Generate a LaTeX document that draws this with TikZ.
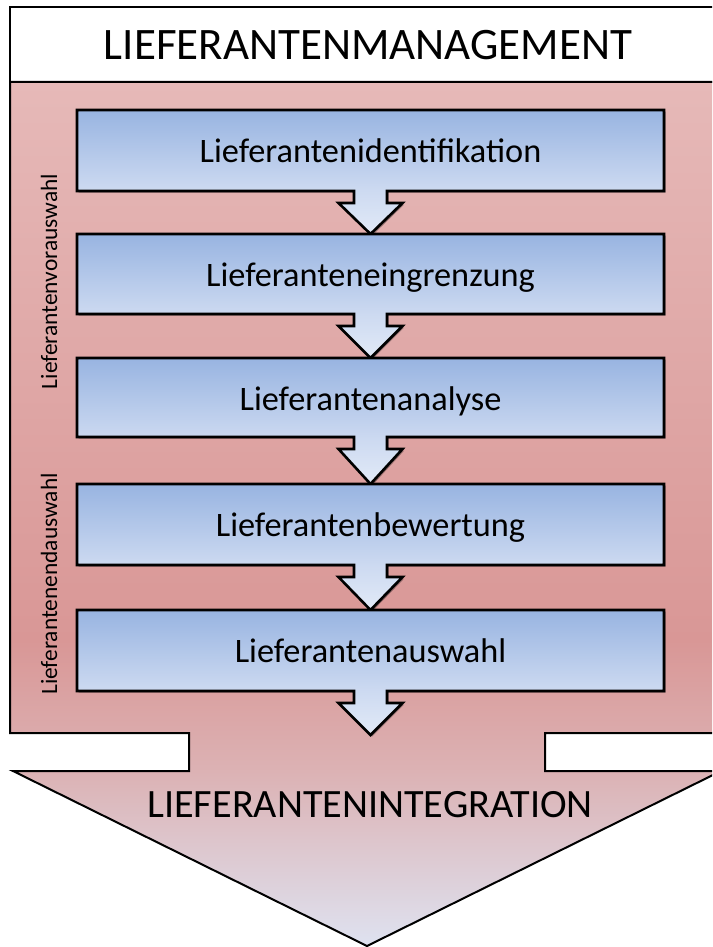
\documentclass[tikz,border=0pt]{standalone}
\usepackage{fontspec}
\setmainfont{Carlito}
\usetikzlibrary{shadows}

% palette
\definecolor{panelA}{RGB}{230,185,184}
\definecolor{panelB}{RGB}{217,151,150}
\definecolor{panelC}{RGB}{220,178,180}
\definecolor{panelD}{RGB}{222,226,240}
\definecolor{stepA}{RGB}{152,180,225}
\definecolor{stepB}{RGB}{205,218,241}
\definecolor{stepC}{RGB}{226,234,247}

% the path bounding box is mapped onto 25bp..75bp of each shading
\pgfdeclareverticalshading{panelshade}{100bp}{%
  color(0bp)=(panelD); color(25bp)=(panelD); color(35.1bp)=(panelC);
  color(42.7bp)=(panelB); color(75bp)=(panelA); color(100bp)=(panelA)}
\pgfdeclareverticalshading{stepshade}{100bp}{%
  color(0bp)=(stepC); color(25bp)=(stepC); color(42.5bp)=(stepB);
  color(75bp)=(stepA); color(100bp)=(stepA)}

\tikzset{
  outline/.style={draw=black, line width=2pt, line join=miter},
  stepshape/.style={draw=black, line width=2.6pt, line join=miter,
    shading=stepshade,
    drop shadow={shadow xshift=1.6pt, shadow yshift=-1.6pt, opacity=0.35, fill=black}},
  steptext/.style={font=\fontsize{34.3}{38}\selectfont, anchor=base},
  sidelabel/.style={font=\fontsize{23.4}{26}\selectfont, anchor=base, rotate=90},
}

% box with a small down arrow: #1 top, #2 bottom, #3 tip (next box top), #4 name, #5 text
\newcommand{\stepbox}[5]{%
  \draw[stepshape] (77,#1) -- (664,#1) -- (664,#2) -- (387,#2) -- (387,#2+12)
    -- (402.5,#2+12) -- (370.5,#3) -- (338.5,#2+12) -- (354,#2+12)
    -- (354,#2) -- (77,#2) -- cycle;
  \node[steptext] (#4) at (370.5,#1+52) {#5};
}

\begin{document}
\begin{tikzpicture}[x=1pt, y=-1pt]
  \useasboundingbox (0,0) rectangle (712,947);
  \clip (0,0) rectangle (712,947);
  \fill[white] (0,0) rectangle (712,947);

  % header
  \draw[outline, fill=white] (10,7) rectangle (724,82);
  \node[font=\fontsize{45}{50}\selectfont, anchor=base] (title) at (368,60)
    {LIEFERANTENMANAGEMENT};

  % panel merging into the large arrow
  \draw[outline, shading=panelshade] (10,82) -- (724,82) -- (724,733) -- (545,733)
    -- (545,771) -- (721,771) -- (367,946) -- (13,771) -- (189,771) -- (189,733)
    -- (10,733) -- cycle;

  % process steps
  \stepbox{110}{191}{234}{s1}{Lieferantenidentifikation}
  \stepbox{234}{314}{358}{s2}{Lieferanteneingrenzung}
  \stepbox{358}{437}{484}{s3}{Lieferantenanalyse}
  \stepbox{484}{565}{610}{s4}{Lieferantenbewertung}
  \stepbox{610}{691}{735}{s5}{Lieferantenauswahl}

  % phase labels
  \node[sidelabel] (pre) at (57,281.5) {Lieferantenvorauswahl};
  \node[sidelabel] (fin) at (57,584) {Lieferantenendauswahl};

  % label of the large arrow
  \node[font=\fontsize{40.2}{45}\selectfont, anchor=base] (integ) at (370,817)
    {LIEFERANTENINTEGRATION};
\end{tikzpicture}
\end{document}
